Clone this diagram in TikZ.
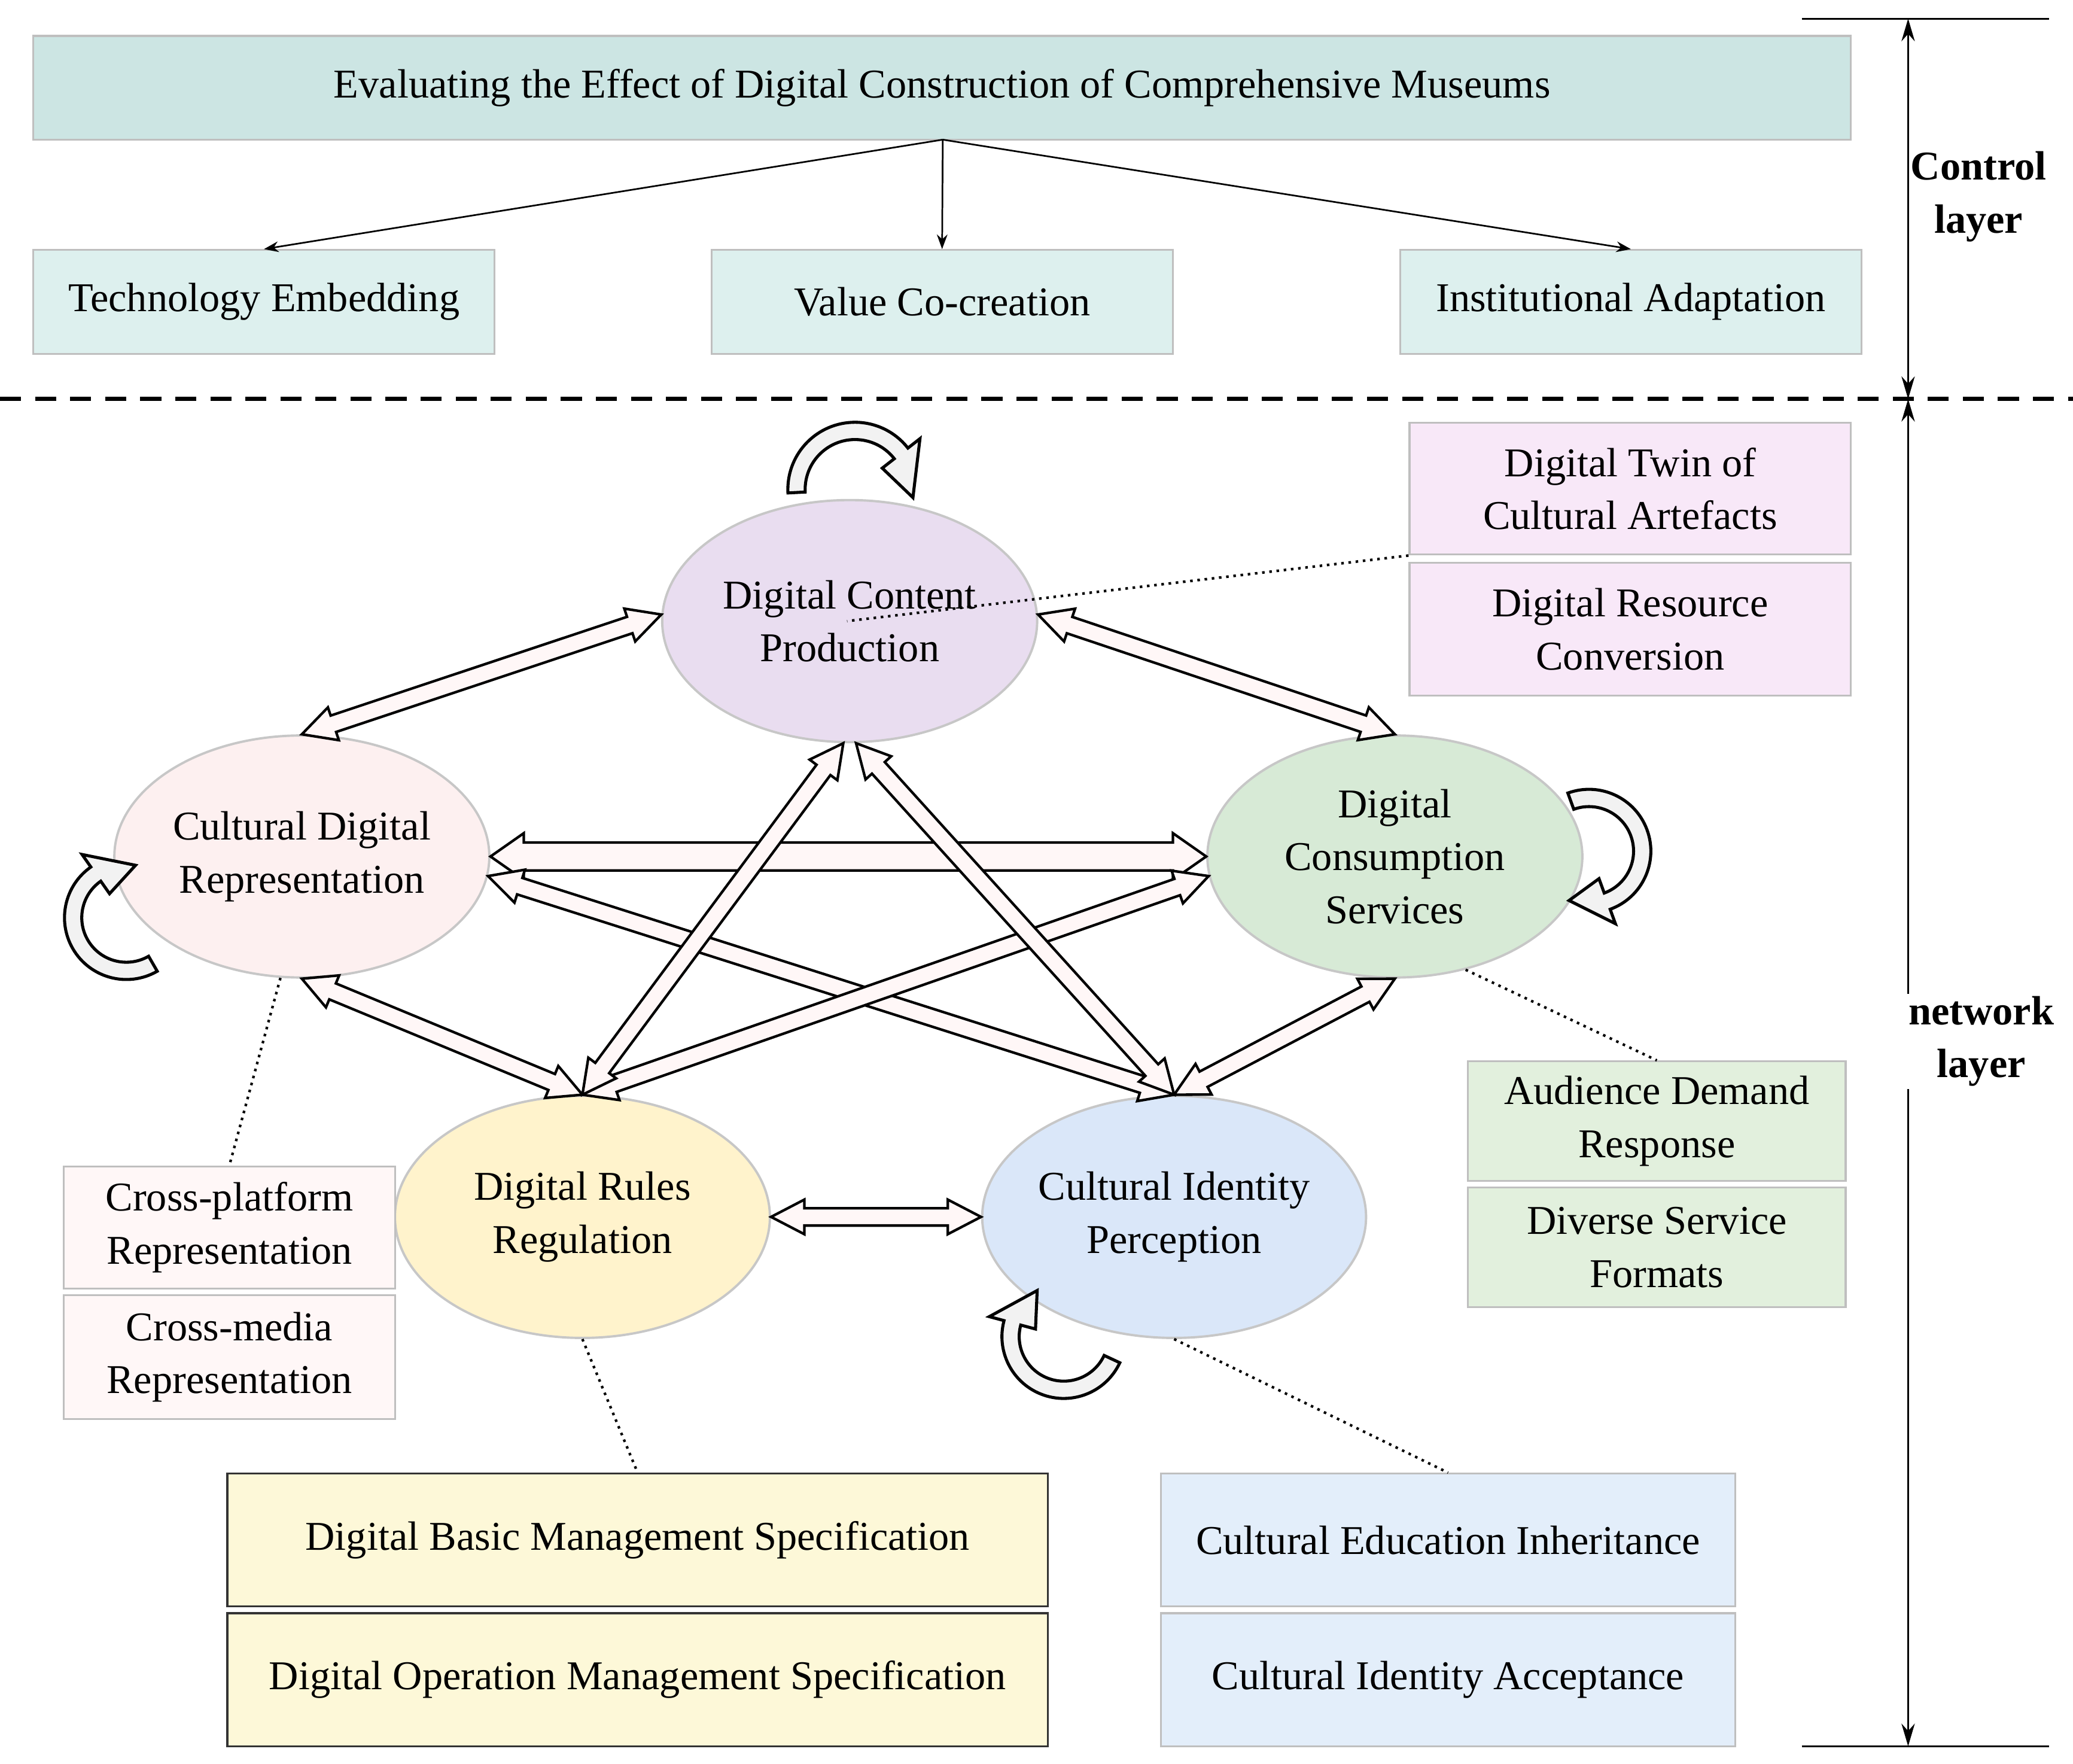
\documentclass[tikz,border=0pt]{standalone}
\usepackage{fontspec}
\setmainfont{Liberation Serif}
\usetikzlibrary{calc,shapes.geometric,arrows.meta}
\definecolor{topc}{HTML}{CCE5E3}
\definecolor{subc}{HTML}{DDF0EE}
\definecolor{purc}{HTML}{E9DDF0}
\definecolor{pinkc}{HTML}{FDF0F0}
\definecolor{grnc}{HTML}{D7EAD6}
\definecolor{yelc}{HTML}{FFF3CC}
\definecolor{bluc}{HTML}{DAE7F9}
\definecolor{purb}{HTML}{F8E8F8}
\definecolor{grnb}{HTML}{E2F0DD}
\definecolor{pinkb}{HTML}{FFF7F7}
\definecolor{yelb}{HTML}{FDF8D8}
\definecolor{blub}{HTML}{E3EEFA}
\definecolor{arrf}{HTML}{FFF7F7}
\tikzset{
 every node/.style={font=\fontsize{17.5}{22.7}\selectfont, align=center},
 box/.style={draw=black!25, line width=0.8pt, inner sep=0pt},
 ell/.style={ellipse, draw=black!22, line width=1pt, minimum width=5.64cm, minimum height=3.64cm, inner sep=0pt},
 fatarr/.style={draw=black, fill=arrf, line width=1.1pt, line join=miter},
 looparr/.style={draw=black, fill=black!5, line width=1.3pt},
 dotl/.style={dotted, line width=1.1pt},
 thin/.style={-{Stealth[length=2.2mm,width=1.6mm]}, line width=0.7pt}
}
\newcommand\darr[5]{% A B shafthalf headhalf headlen
 \path (#1) coordinate (dA) (#2) coordinate (dB);
 \path ($(dA)!#5!(dB)$) coordinate (dA1) ($(dB)!#5!(dA)$) coordinate (dB1);
 \draw[fatarr] (dA) -- ($(dA1)!#4!-90:(dB)$) -- ($(dA1)!#3!-90:(dB)$) -- ($(dB1)!#3!90:(dA)$) -- ($(dB1)!#4!90:(dA)$) -- (dB) -- ($(dB1)!#4!-90:(dA)$) -- ($(dB1)!#3!-90:(dA)$) -- ($(dA1)!#3!90:(dB)$) -- ($(dA1)!#4!90:(dB)$) -- cycle;}
\newcommand\larr[6]{% cx cy R a0 a1 tipangle
 \draw[looparr] ($(#1,#2)+(#4:#3+6.5)$) arc[start angle=#4, end angle=#5, radius=#3+6.5]
  -- ($(#1,#2)+(#5:#3+18)$) -- ($(#1,#2)+(#6:#3)$) -- ($(#1,#2)+(#5:#3-18)$)
  -- ($(#1,#2)+(#5:#3-6.5)$) arc[start angle=#5, end angle=#4, radius=#3-6.5] -- cycle;}
\begin{document}
\begin{tikzpicture}[x=0.2mm,y=-0.2mm]
\useasboundingbox (0,0) rectangle (1559,1326);
% control layer
\node[box, fill=topc, minimum width=27.34cm, minimum height=1.56cm] (top) at (708.5,66) {Evaluating the Effect of Digital Construction of Comprehensive Museums};
\node[box, fill=subc, minimum width=6.94cm, minimum height=1.56cm] (te) at (198.5,227) {Technology Embedding};
\node[box, fill=subc, minimum width=6.94cm, minimum height=1.56cm] (vc) at (708.5,227) {Value Co-creation};
\node[box, fill=subc, minimum width=6.94cm, minimum height=1.56cm] (ia) at (1226.5,227) {Institutional Adaptation};
\coordinate (tb) at (709,105);
\draw[thin] (tb) -- (te.north);
\draw[thin] (tb) -- (vc.north);
\draw[thin] (tb) -- (ia.north);
% scale
\coordinate (s1) at (1355,14); \coordinate (s1e) at (1541,14);
\coordinate (s2) at (1355,1313); \coordinate (s2e) at (1541,1313);
\coordinate (v1) at (1435,14); \coordinate (v2) at (1435,300); \coordinate (v3) at (1435,1313);
\draw[line width=0.8pt] (s1) -- (s1e); \draw[line width=0.8pt] (s2) -- (s2e);
\draw[{Stealth[length=3.4mm,width=2mm]}-{Stealth[length=3.4mm,width=2mm]}, line width=0.8pt] (v1) -- (v2);
\draw[{Stealth[length=3.4mm,width=2mm]}-{Stealth[length=3.4mm,width=2mm]}, line width=0.8pt] (v2) -- (v3);
\coordinate (d1) at (0,300); \coordinate (d2) at (1559,300);
\draw[line width=1.8pt, dash pattern=on 9pt off 6pt] (d1) -- (d2);
\node[font=\fontsize{17.5}{22.7}\selectfont\bfseries] (cl) at (1488,148) {Control\\layer};
\node[font=\fontsize{17.5}{22.7}\selectfont\bfseries, fill=white, inner sep=1pt] (nl) at (1490,783) {network\\layer};
% ellipses
\node[ell, fill=purc] (dcp) at (639,467) {Digital Content\\Production};
\node[ell, fill=pinkc] (cdr) at (227,644) {Cultural Digital\\Representation};
\node[ell, fill=grnc] (dcs) at (1049,644) {Digital\\Consumption\\Services};
\node[ell, fill=yelc] (drr) at (438,915) {Digital Rules\\Regulation};
\node[ell, fill=bluc] (cip) at (883,915) {Cultural Identity\\Perception};
% side boxes
\node[box, fill=purb, minimum width=6.64cm, minimum height=1.98cm] (p1) at (1226,367.5) {Digital Twin of\\Cultural Artefacts};
\node[box, fill=purb, minimum width=6.64cm, minimum height=2cm] (p2) at (1226,473) {Digital Resource\\Conversion};
\node[box, fill=grnb, minimum width=5.68cm, minimum height=1.8cm] (g1) at (1246,843) {Audience Demand\\Response};
\node[box, fill=grnb, minimum width=5.68cm, minimum height=1.8cm] (g2) at (1246,938) {Diverse Service\\Formats};
\node[box, fill=pinkb, minimum width=4.98cm, minimum height=1.84cm] (k1) at (172.5,923) {Cross-platform\\Representation};
\node[box, fill=pinkb, minimum width=4.98cm, minimum height=1.86cm] (k2) at (172.5,1020.5) {Cross-media\\Representation};
\node[box, draw=black!80, fill=yelb, minimum width=12.34cm, minimum height=2cm] (y1) at (479.5,1158) {Digital Basic Management Specification};
\node[box, draw=black!80, fill=yelb, minimum width=12.34cm, minimum height=2cm] (y2) at (479.5,1263) {Digital Operation Management Specification};
\node[box, fill=blub, minimum width=8.64cm, minimum height=2cm] (b1) at (1089,1158) {Cultural Education Inheritance};
\node[box, fill=blub, minimum width=8.64cm, minimum height=2cm] (b2) at (1089,1263) {Cultural Identity Acceptance};
% fat arrows
\darr{cdr.east}{dcs.west}{2.1mm}{3.5mm}{5mm}
\darr{cdr.-6}{cip.north}{1.3mm}{2.6mm}{5mm}
\darr{dcs.186}{drr.north}{1.3mm}{2.6mm}{5mm}
\darr{dcp.-93}{drr.north}{1.3mm}{2.6mm}{5mm}
\darr{dcp.-87}{cip.north}{1.3mm}{2.6mm}{5mm}
\darr{cdr.south}{drr.north}{1.3mm}{2.6mm}{5mm}
\darr{dcs.south}{cip.north}{1.3mm}{2.6mm}{5mm}
\darr{dcp.178}{cdr.north}{1.3mm}{2.6mm}{5mm}
\darr{dcp.2}{dcs.north}{1.3mm}{2.6mm}{5mm}
\darr{drr.east}{cip.west}{1.3mm}{2.6mm}{5mm}
% loops
\larr{643}{368}{44}{177}{322}{368}
\larr{95}{690}{40}{60}{235}{280}
\larr{1195}{640}{40}{-110}{70}{112}
\larr{800}{1005}{40}{25}{195}{240}
% dotted leaders
\coordinate (pd) at (637,467);
\draw[dotl] (p1.south west) -- (pd);
\draw[dotl] (dcs.-58) -- (g1.north);
\draw[dotl] (cdr.-100) -- (k1.north);
\draw[dotl] (drr.south) -- (y1.north);
\draw[dotl] (cip.south) -- (b1.north);
\end{tikzpicture}
\end{document}
